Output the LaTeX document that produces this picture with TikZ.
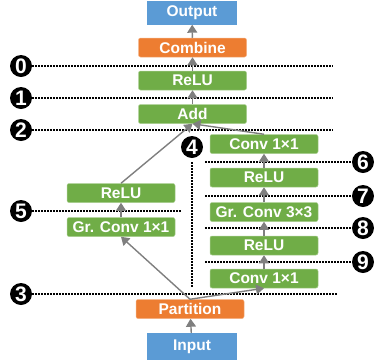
\documentclass[tikz,border=0pt]{standalone}
\usepackage{fontspec}
\setmainfont{Liberation Sans}
\usetikzlibrary{arrows.meta}

\definecolor{boxgreen}{HTML}{70AD47}
\definecolor{boxorange}{HTML}{ED7D31}
\definecolor{boxblue}{HTML}{5B9BD5}
\definecolor{flowgray}{HTML}{7F7F7F}

\begin{document}
\begin{tikzpicture}[x = 1pt, y = -1pt,
                      layer/.style = {rectangle, rounded corners = 2pt, inner sep = 0pt,
                                      minimum width = 108pt, minimum height = 19pt, text = white,
                                      font = \fontsize{15.5}{15.5}\selectfont\bfseries},
                      green/.style = {layer, fill = boxgreen, draw = boxgreen!60!white, line width = 0.5pt},
                      orange/.style = {layer, fill = boxorange, draw = boxorange!60!white, line width = 0.5pt},
                      io/.style = {layer, rounded corners = 0pt, fill = boxblue, minimum width = 90pt},
                      num/.style = {circle, fill = black, inner sep = 0pt, minimum size = 22pt, text = white,
                                    font = \fontsize{21}{21}\selectfont\bfseries},
                      guide/.style = {line width = 1.8pt, dash pattern = on 1.5pt off 1.5pt},
                      flow/.style = {draw = flowgray, line width = 1.4pt, -{Triangle[width = 10pt, length = 8pt]}}]
    \useasboundingbox (0, 0) rectangle (376, 360);

    % main column
    \node [io, minimum height = 24pt] (output) at (192, 12.5){Output};
    \node [orange] (combine) at (192.5, 47.5){Combine};
    \node [green] (relu0) at (192.5, 80.5){ReLU};
    \node [green] (add) at (192.5, 114){Add};
    \node [orange] (partition) at (190, 309){Partition};
    \node [io, minimum height = 27pt] (input) at (192, 346.5){Input};

    % left branch
    \node [green] (reluL) at (121, 193){ReLU};
    \node [green] (gconvL) at (121, 227){Gr. Conv 1×1};

    % right branch
    \node [green] (conv2) at (264, 144){Conv 1×1};
    \node [green] (relu2) at (264, 177.5){ReLU};
    \node [green] (gconv3) at (264, 212){Gr. Conv 3×3};
    \node [green] (relu1) at (264, 245.5){ReLU};
    \node [green] (conv1) at (264, 278.5){Conv 1×1};

    % numbered cuts
    \node [num] (n0) at (21, 66){0};
    \node [num] (n1) at (21, 98){1};
    \node [num] (n2) at (21, 130){2};
    \node [num] (n3) at (21, 294){3};
    \node [num] (n4) at (192, 147){4};
    \node [num] (n5) at (21, 211){5};
    \node [num] (n6) at (363, 162){6};
    \node [num] (n7) at (363, 196){7};
    \node [num] (n8) at (363, 228){8};
    \node [num] (n9) at (363, 262){9};

    \coordinate (e0) at (333, 66);
    \coordinate (e1) at (333, 98);
    \coordinate (e2) at (333, 130);
    \coordinate (e3) at (337, 294);
    \coordinate (e4) at (192, 287);
    \coordinate (e5) at (182, 211);
    \coordinate (e6) at (205, 162);
    \coordinate (e7) at (205, 196);
    \coordinate (e8) at (205, 228);
    \coordinate (e9) at (205, 262);

    \draw [guide] (n0.east) -- (e0);
    \draw [guide] (n1.east) -- (e1);
    \draw [guide] (n2.east) -- (e2);
    \draw [guide] (n3.east) -- (e3);
    \draw [guide] (n4.south) ++(0, 4) -- (e4);
    \draw [guide] (n5.east) -- (e5);
    \draw [guide] (e6) -- (n6.west);
    \draw [guide] (e7) -- (n7.west);
    \draw [guide] (e8) -- (n8.west);
    \draw [guide] (e9) -- (n9.west);

    % data flow
    \draw [flow] (input) -- (partition);
    \draw [flow] (partition.north) -- (gconvL.south);
    \draw [flow] (gconvL) -- (reluL);
    \draw [flow] (reluL.north) -- (add.south);
    \draw [flow] (partition.north) -- (conv1.south);
    \draw [flow] (conv1) -- (relu1);
    \draw [flow] (relu1) -- (gconv3);
    \draw [flow] (gconv3) -- (relu2);
    \draw [flow] (relu2) -- (conv2);
    \draw [flow] (conv2.north) -- (add.south);
    \draw [flow] (add) -- (relu0);
    \draw [flow] (relu0) -- (combine);
    \draw [flow] (combine) -- (output);
\end{tikzpicture}
\end{document}
